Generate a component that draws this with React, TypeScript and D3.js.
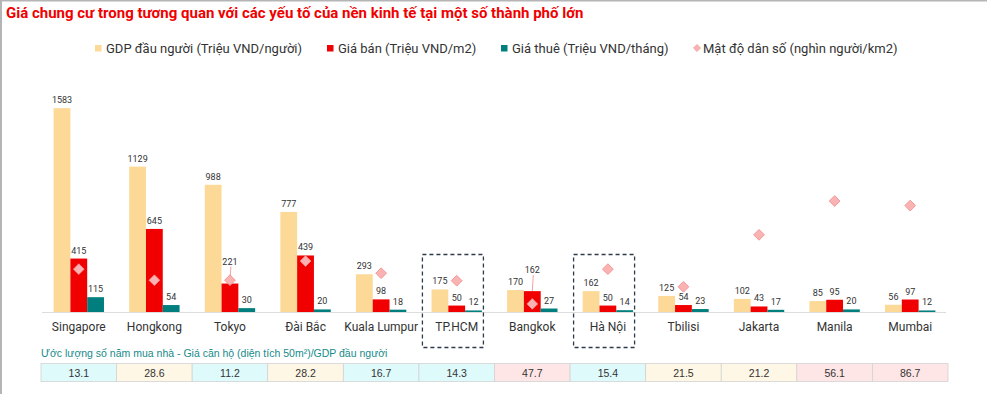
import * as d3 from "d3";

const cities = ["Singapore", "Hongkong", "Tokyo", "Đài Bắc", "Kuala Lumpur", "TP.HCM", "Bangkok", "Hà Nội", "Tbilisi", "Jakarta", "Manila", "Mumbai"];
const gdp = [1583, 1129, 988, 777, 293, 175, 170, 162, 125, 102, 85, 56];
const price = [415, 645, 221, 439, 98, 50, 162, 50, 54, 43, 95, 97];
const rent = [115, 54, 30, 20, 18, 12, 27, 14, 23, 17, 20, 12];
const density = [8.5, 6.3, 6.3, 10.1, 7.7, 6.2, 1.6, 8.5, 5.0, 15.3, 22.0, 21.1];
const years = [13.1, 28.6, 11.2, 28.2, 16.7, 14.3, 47.7, 15.4, 21.5, 21.2, 56.1, 86.7];
const highlighted = ["TP.HCM", "Hà Nội"];

const TITLE = "Giá chung cư trong tương quan với các yếu tố của nền kinh tế tại một số thành phố lớn";
const NOTE = "Ước lượng số năm mua nhà - Giá căn hộ (diện tích 50m²)/GDP đầu người";

const W = 987;
const H = 394;
const BASE = 312;
const FONT = "Roboto, 'Noto Sans', sans-serif";
const COLORS = {gdp: "#FDD998", price: "#F00000", rent: "#007F7E"};

export default function App() {
    const x = d3.scaleBand().domain(cities).range([41, 948]);
    const inner = d3
        .scaleBand()
        .domain(["gdp", "price", "rent"])
        .range([x.bandwidth() / 6, (x.bandwidth() * 5) / 6]);
    const y = d3.scaleLinear().domain([0, 1800]).range([BASE, 80.2]);
    const y2 = d3.scaleLinear().domain([0, 46]).range([BASE, 80]);
    const cellColor = d3
        .scaleThreshold<number, string>()
        .domain([20, 30])
        .range(["#DEFAFB", "#FFF7E6", "#FFE6E6"]);

    const series = [
        {key: "gdp", values: gdp},
        {key: "price", values: price},
        {key: "rent", values: rent},
    ] as const;

    // a few labels were pushed up in the original to clear the diamonds
    const lift: Record<string, number> = {"price-Tokyo": 14, "price-Bangkok": 13};

    const bars = series.flatMap((s) =>
        cities.map((c, i) => {
            const bx = (x(c) ?? 0) + (inner(s.key) ?? 0);
            const by = y(s.values[i]);
            const bw = inner.bandwidth();
            const up = lift[`${s.key}-${c}`] ?? 0;
            const ly = by - 5 - up;
            return (
                <g key={`${s.key}-${c}`}>
                    <rect x={bx} y={by} width={bw} height={Math.max(BASE - by, 1.5)} fill={COLORS[s.key]} />
                    {up > 0 && (
                        <line x1={bx + bw / 2 + 1} y1={ly + 2} x2={bx + bw / 2} y2={by + (c === "Tokyo" ? -5 : 0)} stroke="#F08A8A" strokeWidth={0.8} />
                    )}
                    <text x={bx + bw / 2} y={ly} textAnchor="middle" fontSize={9} fill="#333">
                        {s.values[i]}
                    </text>
                </g>
            );
        })
    );

    const diamonds = cities.map((c, i) => {
        const cx = (x(c) ?? 0) + x.bandwidth() / 2;
        const cy = y2(density[i]);
        return (
            <rect
                key={c}
                x={-3.8}
                y={-3.8}
                width={7.6}
                height={7.6}
                transform={`translate(${cx},${cy}) rotate(45)`}
                fill="#F9B3B3"
                stroke="#F28C8C"
                strokeWidth={0.8}
            />
        );
    });

    const legend = [
        {x: 95, label: "GDP đầu người (Triệu VND/người)", color: COLORS.gdp, diamond: false},
        {x: 327, label: "Giá bán (Triệu VND/m2)", color: COLORS.price, diamond: false},
        {x: 501, label: "Giá thuê (Triệu VND/tháng)", color: COLORS.rent, diamond: false},
        {x: 694, label: "Mật độ dân số (nghìn người/km2)", color: "#F9B3B3", diamond: true},
    ];

    return (
        <svg width={W} height={H} style={{position: "absolute", left: 0, top: 0}} fontFamily={FONT}>
            <rect width={W} height={H} fill="#fff" />
            <rect x={0} y={0} width={W} height={1.5} fill="#B5B5B5" />
            <rect x={0} y={0} width={2} height={H} fill="#B5B5B5" />

            <text x={6} y={18} fontSize={15} fontWeight="bold" fill="#F00000">
                {TITLE}
            </text>

            {legend.map((l) => (
                <g key={l.label} transform={`translate(${l.x},48)`}>
                    {l.diamond ? (
                        <rect x={-2.5} y={-2.5} width={5} height={5} transform="translate(3,0) rotate(45)" fill={l.color} stroke="#F28C8C" strokeWidth={0.6} />
                    ) : (
                        <rect x={0} y={-3} width={6.5} height={6.5} fill={l.color} />
                    )}
                    <text x={l.diamond ? 9 : 11} y={4.5} fontSize={13} fill="#333">
                        {l.label}
                    </text>
                </g>
            ))}

            <line x1={42} x2={946} y1={BASE + 0.5} y2={BASE + 0.5} stroke="#DDDDDD" strokeWidth={1} />
            {bars}
            {diamonds}

            {cities.map((c) => (
                <text key={c} x={(x(c) ?? 0) + x.bandwidth() / 2} y={331} textAnchor="middle" fontSize={12} fill="#333">
                    {c}
                </text>
            ))}

            {highlighted.map((c) => (
                <rect
                    key={c}
                    x={(x(c) ?? 0) + 3.5}
                    y={254.5}
                    width={61}
                    height={93}
                    fill="none"
                    stroke="#2E3B4A"
                    strokeWidth={1.3}
                    strokeDasharray="4 3"
                />
            ))}

            <text x={41} y={356.5} fontSize={10.5} fill="#168A8A" fontFamily="'Liberation Sans', Arial, sans-serif">
                {NOTE}
            </text>

            {cities.map((c, i) => (
                <g key={c}>
                    <rect x={x(c)} y={363.5} width={x.bandwidth()} height={18} fill={cellColor(years[i])} stroke="#D3D3D3" strokeWidth={0.8} />
                    <text
                        x={(x(c) ?? 0) + x.bandwidth() / 2}
                        y={376.5}
                        textAnchor="middle"
                        fontSize={10.5}
                        fill="#333"
                        fontFamily="'Liberation Sans', Arial, sans-serif"
                    >
                        {years[i].toFixed(1)}
                    </text>
                </g>
            ))}
        </svg>
    );
}
